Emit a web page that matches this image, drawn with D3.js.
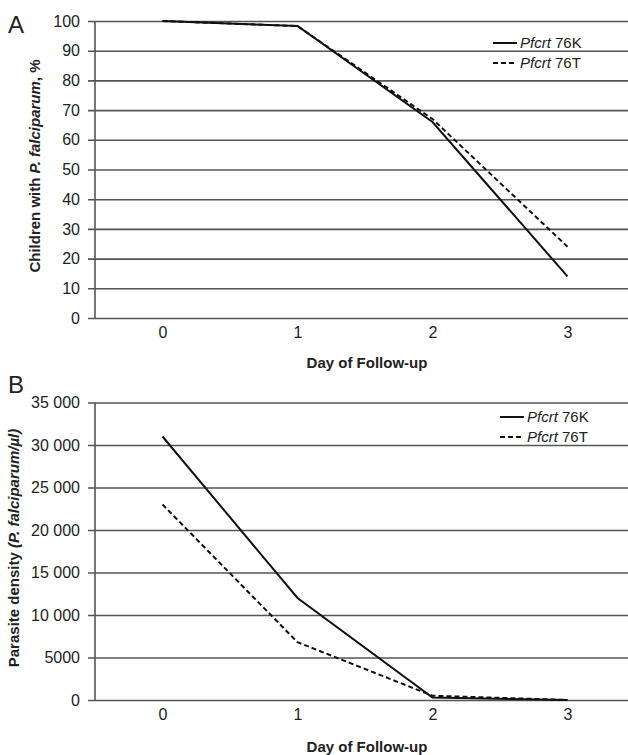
<!DOCTYPE html>
<html>
<head>
<meta charset="utf-8">
<script src="https://cdn.jsdelivr.net/npm/d3@7"></script>
<style>
  body { margin: 0; background: #fff; }
  svg { display: block; }
  text { font-family: "Liberation Sans", Arial, sans-serif; fill: #222; }
</style>
</head>
<body>
<svg id="chart" width="628" height="755"></svg>
<script>
// Day of follow-up categories
var days = [0, 1, 2, 3];
// Panel A: children with P. falciparum, %
var pctTicks = [0, 10, 20, 30, 40, 50, 60, 70, 80, 90, 100];
var pct76K = [100, 98.3, 66, 14];
var pct76T = [100, 98.3, 67, 24];
// Panel B: parasite density (P. falciparum/µl)
var densTicks = [0, 5000, 10000, 15000, 20000, 25000, 30000, 35000];
var dens76K = [31000, 12000, 300, 0];
var dens76T = [23000, 6800, 500, 0];
var seriesNames = ["76K", "76T"];

var svg = d3.select("#chart");
var left = 95, right = 635;

var x = d3.scalePoint().domain(days).range([left, right]).padding(0.5);

function fmt(v) {
    // space grouping only for 5 digit numbers like the original
    if (v >= 10000) return d3.format(",")(v).replace(",", " ");
    return String(v);
}

function drawPanel(opt) {
    var y = d3.scaleLinear().domain([0, opt.max]).range([opt.bottom, opt.top]);
    var g = svg.append("g");

    // gridlines + y ticks
    var yAxis = d3.axisLeft(y).tickValues(opt.ticks).tickFormat(opt.format).tickSize(0).tickPadding(15);
    var ya = g.append("g").attr("transform", "translate(" + left + ",0)").call(yAxis);
    ya.select(".domain").remove();
    ya.selectAll(".tick line").attr("x1", -7).attr("x2", 628 - left)
        .attr("stroke", "#555").attr("stroke-width", 1.6);
    ya.selectAll(".tick text").attr("font-size", 16).attr("fill", "#222")
        .attr("font-family", "Liberation Sans, Arial, sans-serif");

    // vertical axis line
    g.append("line").attr("x1", left).attr("x2", left)
        .attr("y1", y(opt.max)).attr("y2", y(0))
        .attr("stroke", "#555").attr("stroke-width", 1.6);

    // x tick labels
    var xAxis = d3.axisBottom(x).tickSize(0).tickPadding(9);
    var xa = g.append("g").attr("transform", "translate(0," + opt.bottom + ")").call(xAxis);
    xa.select(".domain").remove();
    xa.selectAll(".tick text").attr("font-size", 16).attr("fill", "#222")
        .attr("font-family", "Liberation Sans, Arial, sans-serif");

    // x title
    g.append("text").attr("x", 367).attr("y", opt.xTitleY)
        .attr("text-anchor", "middle").attr("font-size", 15).attr("font-weight", "bold")
        .text("Day of Follow-up");

    // y title
    var yt = g.append("text")
        .attr("transform", "translate(" + opt.yTitleX + "," + opt.yTitleMid + ") rotate(-90)")
        .attr("text-anchor", "middle").attr("font-size", 15).attr("font-weight", "bold");
    opt.yTitle.forEach(function(p) {
        yt.append("tspan").attr("font-style", p[1] ? "italic" : "normal").text(p[0]);
    });

    // panel letter
    g.append("text").attr("x", 8).attr("y", opt.letterY).attr("font-size", 24)
        .text(opt.letter);

    // lines
    var line = d3.line().x(function(d, i) { return x(days[i]); }).y(function(d) { return y(d); });
    var dashes = [null, "5,3"];
    [opt.s1, opt.s2].forEach(function(s, i) {
        g.append("path").datum(s).attr("d", line).attr("fill", "none")
            .attr("stroke", "#111").attr("stroke-width", 2)
            .attr("stroke-dasharray", dashes[i]);
    });

    // legend
    seriesNames.forEach(function(n, i) {
        var ly = opt.legY + i * 20;
        g.append("line").attr("x1", opt.legX).attr("x2", opt.legX + 24)
            .attr("y1", ly).attr("y2", ly)
            .attr("stroke", "#111").attr("stroke-width", 2)
            .attr("stroke-dasharray", dashes[i]);
        var t = g.append("text").attr("x", opt.legX + 27).attr("y", ly + 5).attr("font-size", 15);
        t.append("tspan").attr("font-style", "italic").text("Pfcrt");
        t.append("tspan").text(" " + n);
    });
}

drawPanel({
    letter: "A", letterY: 33,
    top: 21, bottom: 318, max: 100, ticks: pctTicks, format: d3.format("d"),
    s1: pct76K, s2: pct76T,
    xTitleY: 368, yTitleX: 40, yTitleMid: 166,
    yTitle: [["Children with ", false], ["P. falciparum", true], [", %", false]],
    legX: 493, legY: 43
});

drawPanel({
    letter: "B", letterY: 393,
    top: 402.5, bottom: 700, max: 35000, ticks: densTicks, format: fmt,
    s1: dens76K, s2: dens76T,
    xTitleY: 752, yTitleX: 19, yTitleMid: 548,
    yTitle: [["Parasite density ", false], ["(P. falciparum/µl)", true]],
    legX: 500, legY: 417
});
</script>
</body>
</html>
